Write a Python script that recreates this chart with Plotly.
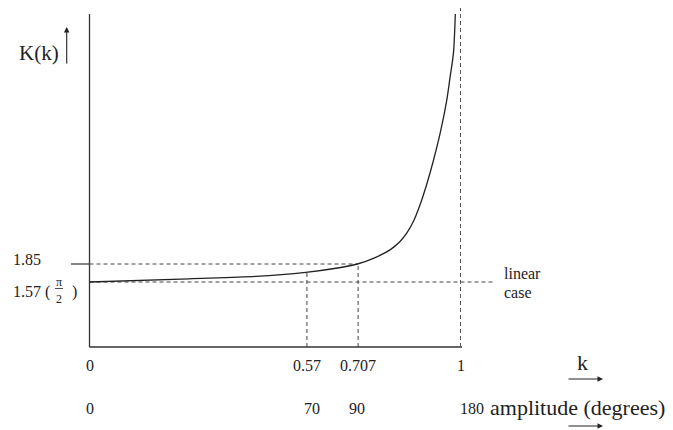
import plotly.graph_objects as go

# ---------------- data ----------------
# schematic horizontal position (0 = origin, 1 = k=1) and K(k) value
curve_pos = [0.0, 0.268, 0.448, 0.583, 0.66, 0.722, 0.77, 0.81, 0.837, 0.855,
             0.873, 0.891, 0.909, 0.927, 0.945, 0.963, 0.972, 0.981, 0.986]
curve_K = [1.57, 1.62, 1.656, 1.72, 1.78, 1.85, 1.95, 2.07, 2.20, 2.33,
           2.51, 2.77, 3.09, 3.46, 3.88, 4.40, 4.76, 5.13, 5.738]

k_tick_labels = ["0", "0.57", "0.707", "1"]
k_tick_pos = [0.0, 0.586, 0.724, 1.0]
amp_tick_labels = ["0", "70", "90", "180"]
amp_tick_pos = [0.0, 0.599, 0.720, 1.031]

K_marks_at_k = [1.72, 1.85]        # K where the 0.57 and 0.707 guides meet the curve
K_linear = 1.57
K_185 = 1.85
K_axis_bottom = 0.559
K_axis_top = 5.738
K_guide_top = 5.878
linear_case_end = 1.0876

# ---------------- pixel helpers (layout only) ----------------
W, H = 673, 430
OFF = 8  # page body margin
X0, XS = 89.5, 371.0
Y0, YS = 282.0, 64.3


def X(px):
    return (px - X0) / XS


def Y(py):
    return K_linear + (Y0 - py) / YS


FONT = "Liberation Serif"
INK = "#222222"
AX = "#333333"
DASH = "4px,3px"

fig = go.Figure()

# axes
fig.add_trace(go.Scatter(x=[0, 0], y=[K_axis_bottom, K_axis_top], mode="lines",
                         line=dict(color=AX, width=1.3), hoverinfo="skip"))
fig.add_trace(go.Scatter(x=[0, X(462)], y=[K_axis_bottom, K_axis_bottom], mode="lines",
                         line=dict(color=AX, width=1.3), hoverinfo="skip"))
# short solid tick at 1.85
fig.add_trace(go.Scatter(x=[X(71), 0], y=[K_185, K_185], mode="lines",
                         line=dict(color=AX, width=1.2), hoverinfo="skip"))

# dashed guides
fig.add_trace(go.Scatter(x=[0, k_tick_pos[2]], y=[K_185, K_185], mode="lines",
                         line=dict(color="#444444", width=1, dash=DASH), hoverinfo="skip"))
fig.add_trace(go.Scatter(x=[0, linear_case_end], y=[K_linear, K_linear], mode="lines",
                         line=dict(color="#444444", width=1, dash=DASH), hoverinfo="skip"))
for p, kv in zip(k_tick_pos[1:3], K_marks_at_k):
    fig.add_trace(go.Scatter(x=[p, p], y=[K_axis_bottom, kv], mode="lines",
                             line=dict(color="#444444", width=1, dash=DASH), hoverinfo="skip"))
fig.add_trace(go.Scatter(x=[k_tick_pos[3], k_tick_pos[3]], y=[K_axis_bottom, K_guide_top],
                         mode="lines", line=dict(color="#555555", width=1, dash=DASH),
                         hoverinfo="skip"))

# the curve
fig.add_trace(go.Scatter(x=curve_pos, y=curve_K, mode="lines", line_shape="spline",
                         line=dict(color=INK, width=1.3, smoothing=0.8), hoverinfo="skip"))

ann = []


def txt(t, px, py, size, anchor="center"):
    ann.append(dict(text=t, x=X(px), y=Y(py), xref="x", yref="y", showarrow=False,
                    xanchor=anchor, yanchor="middle",
                    font=dict(family=FONT, size=size, color=INK)))


def arrow(px0, py0, px1, py1):
    ann.append(dict(text="", x=X(px1), y=Y(py1), ax=X(px0), ay=Y(py0),
                    xref="x", yref="y", axref="x", ayref="y", showarrow=True,
                    arrowhead=2, arrowsize=1, arrowwidth=1.1, arrowcolor=INK))


# y-axis label
txt("K(k)", 39, 53, 21)
arrow(66.7, 65, 66.7, 27)

# y labels
txt("1.85", 11, 259, 16, "left")
txt("1.57 (", 11, 292, 16, "left")
txt("π", 59, 282, 12)
txt("2", 59, 299, 12)
txt(")", 74, 292, 16)
fig.add_trace(go.Scatter(x=[X(55), X(63)], y=[Y(288.5), Y(288.5)], mode="lines",
                         line=dict(color=INK, width=0.8), hoverinfo="skip"))

# linear case
txt("linear", 502, 273, 16, "left")
txt("case", 502, 292, 16, "left")

# tick label rows
for lab, p in zip(k_tick_labels, k_tick_pos):
    ann.append(dict(text=lab, x=p, y=Y(365), xref="x", yref="y", showarrow=False,
                    xanchor="center", yanchor="middle",
                    font=dict(family=FONT, size=16, color=INK)))
for lab, p in zip(amp_tick_labels, amp_tick_pos):
    ann.append(dict(text=lab, x=p, y=Y(408), xref="x", yref="y", showarrow=False,
                    xanchor="center", yanchor="middle",
                    font=dict(family=FONT, size=16, color=INK)))

txt("k", 582, 362, 22)
arrow(567, 379, 603, 379)
txt("amplitude (degrees)", 488, 407, 22, "left")
arrow(567, 426, 603, 426)

fig.update_layout(
    width=W, height=H,
    margin=dict(l=0, r=0, t=0, b=0),
    paper_bgcolor="white", plot_bgcolor="white",
    showlegend=False,
    annotations=ann,
    xaxis=dict(range=[X(OFF), X(W + OFF)], visible=False, fixedrange=True),
    yaxis=dict(range=[Y(H + OFF), Y(OFF)], visible=False, fixedrange=True),
)

fig.write_html("out.html")
